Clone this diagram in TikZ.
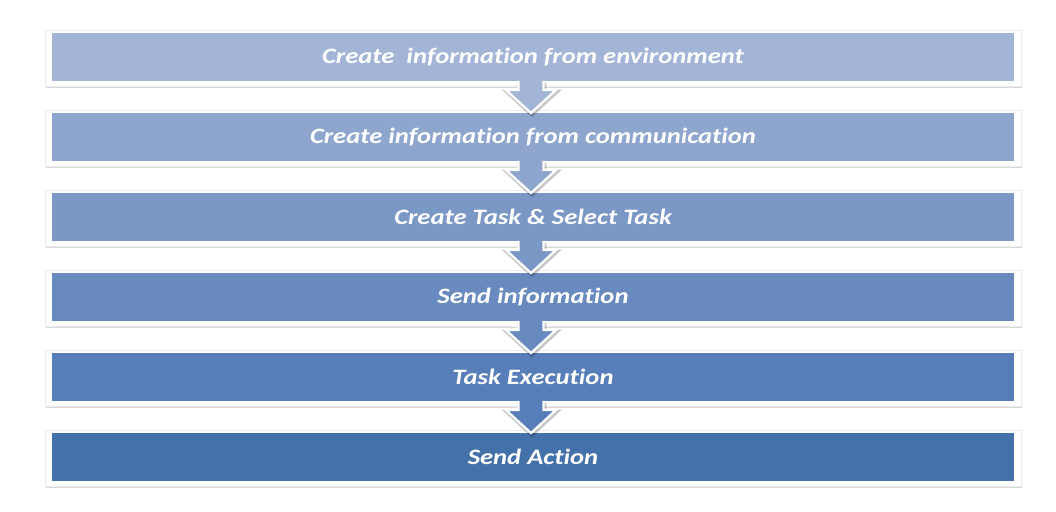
\documentclass[tikz,border=0pt]{standalone}
\usepackage{fontspec}
\setmainfont[Ligatures={NoCommon}]{Carlito}
\usetikzlibrary{shadows}
\definecolor{cA}{HTML}{A3B5D6}
\definecolor{cB}{HTML}{8EA6CE}
\definecolor{cC}{HTML}{7B97C6}
\definecolor{cD}{HTML}{688ABF}
\definecolor{cE}{HTML}{577EB8}
\definecolor{cF}{HTML}{4571AA}
\newcommand{\widetext}[1]{\scalebox{1.21}[1]{#1}}
\tikzset{
  x=1pt,y=1pt,
  frame/.style={fill=white, draw=black!8, line width=0.4pt,
    drop shadow={opacity=0.3, shadow xshift=1.2pt, shadow yshift=-2pt}},
  bar/.style={inner sep=0pt, minimum width=962pt, minimum height=48pt,
    text=white, font=\fontsize{22}{26}\selectfont\bfseries\itshape},
  arrline/.style={draw=white, line width=2.2pt, line join=miter},
  arrshadow/.style={draw=black, opacity=0.22, line width=4pt, line join=miter}
}
\begin{document}
\begin{tikzpicture}
\useasboundingbox (0,0) rectangle (1056,511);
\foreach \i/\c/\t in {0/cA/{Create\ \ information from environment},
                      1/cB/{Create information from communication},
                      2/cC/{Create Task \& Select Task},
                      3/cD/{Send information},
                      4/cE/{Task Execution},
                      5/cF/{Send Action}}{
  \pgfmathsetmacro{\ytop}{481-80*\i}
  \pgfmathsetmacro{\ybot}{425-80*\i}
  \pgfmathsetmacro{\ymid}{454-80*\i}
  \path[frame] (45,\ybot) rectangle (1021,\ytop);
  \node[bar, fill=\c] (box\i) at (533,\ymid) {\widetext{\t}};
}
\foreach \i/\c in {0/cA,1/cB,2/cC,3/cD,4/cE}{
  \pgfmathsetmacro{\ya}{430-80*\i}
  \pgfmathsetmacro{\yb}{421-80*\i}
  \pgfmathsetmacro{\yc}{398-80*\i}
  \begin{scope}
    \clip (0,\ya-1) rectangle (1056,\yc-10);
    \draw[arrshadow, shift={(0.8,-1.6)}] (518.5,\ya) -- (518.5,\yb) -- (506,\yb) -- (531,\yc) -- (556,\yb) -- (543.5,\yb) -- (543.5,\ya);
  \end{scope}
  \fill[\c] (518.5,\ya) -- (518.5,\yb) -- (506,\yb) -- (531,\yc) -- (556,\yb) -- (543.5,\yb) -- (543.5,\ya) -- cycle;
  \draw[arrline] (518.5,\ya) -- (518.5,\yb) -- (506,\yb) -- (531,\yc) -- (556,\yb) -- (543.5,\yb) -- (543.5,\ya);
}
\end{tikzpicture}
\end{document}
